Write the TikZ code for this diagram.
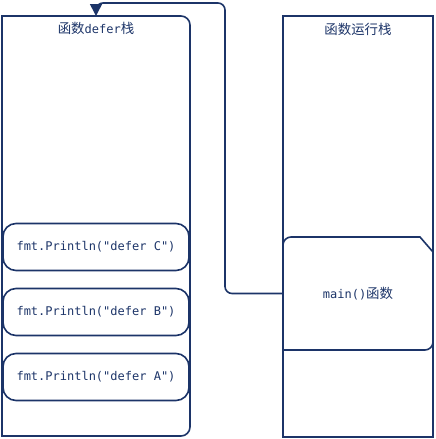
\documentclass[tikz,border=0pt]{standalone}
\usepackage{fontspec}
\setmainfont{DejaVu Sans Mono}[Ligatures=TeXOff]
\newfontfamily\cjk[Scale=1.12]{Noto Sans CJK SC}
\usepackage{tikz}
\usetikzlibrary{arrows.meta,positioning,calc}
\definecolor{encre}{RGB}{28,52,104}

\begin{document}
\begin{tikzpicture}[x=1pt, y=-1pt, line width=1.6pt, color=encre,
  font=\fontsize{12}{14}\selectfont,
  cadre/.style={inner sep=0pt, outer sep=0pt},
  defer/.style={draw, rounded corners=13pt, minimum width=186pt, minimum height=47pt, inner sep=0pt, outer sep=0pt},
  fleche/.style={-{Triangle[length=12pt,width=12pt]}, rounded corners=7pt}]

\useasboundingbox (0,0) rectangle (436,439);

% pile defer
\node[cadre, minimum width=188pt, minimum height=420pt] (pile) at (96,226) {};
\draw (pile.south west) -- (pile.north west) -- ($(pile.north east)+(-9,0)$) arc (90:0:9pt)
  -- ($(pile.south east)+(0,-9)$) arc (0:-90:9pt) -- cycle;
\node (titre1) at (96,28) {{\cjk 函数}defer{\cjk 栈}};

% appels differes
\node[defer] (deferC) at (96,247) {fmt.Println("defer C")};
\node[defer, below=18pt of deferC] (deferB) {fmt.Println("defer B")};
\node[defer, below=18pt of deferB] (deferA) {fmt.Println("defer A")};

% pile d'execution
\node[cadre, minimum width=150pt, minimum height=421pt] (pileexec) at (358,226.5) {};
\draw (pileexec.south west) rectangle (pileexec.north east);
\node (titre2) at (358,29) {{\cjk 函数运行栈}};

% main
\node[cadre, minimum width=150pt, minimum height=113pt] (main) at (358,293.5) {main(){\cjk 函数}};
\draw (main.south west) -- ($(main.north west)+(0,8)$) arc (180:90:8pt)
  -- ($(main.north east)+(-13,0)$) -- ($(main.north east)+(0,15)$)
  -- ($(main.south east)+(0,-8)$) arc (0:-90:8pt) -- cycle;

% retour
\coordinate (coude) at (225,3);
\draw[fleche] (main.west) -| (coude) -- (pile.north |- coude) [sharp corners] -- (pile.north);

\end{tikzpicture}
\end{document}
